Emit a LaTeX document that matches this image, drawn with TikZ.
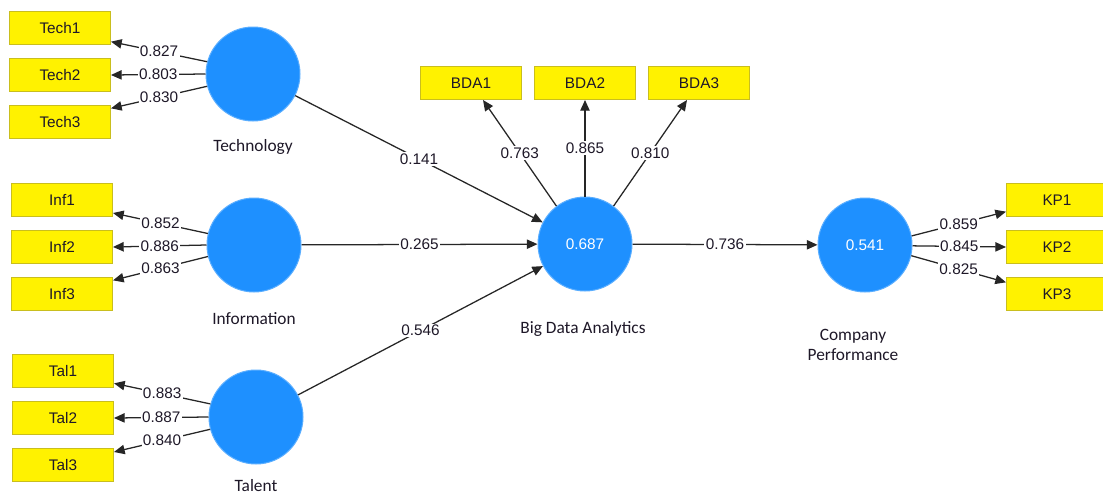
\documentclass[tikz,border=0pt]{standalone}
\usepackage{fontspec}
\setmainfont{Liberation Sans}
\newfontfamily\latfont{Carlito}
\usetikzlibrary{arrows.meta,calc}
\definecolor{boxfill}{HTML}{FFF200}
\definecolor{boxborder}{HTML}{C9BE1E}
\definecolor{lvblue}{HTML}{1E90FF}
\definecolor{lvedge}{HTML}{5AAEFF}
\definecolor{txt}{HTML}{1E1828}
\begin{document}
\begin{tikzpicture}[x=0.75pt,y=-0.75pt,
 ind/.style={draw=boxborder, fill=boxfill, minimum width=75.75pt, minimum height=24.75pt, inner sep=0pt, text=txt, font=\fontsize{11.5}{13}\selectfont, line width=0.75pt},
 lv/.style={circle, fill=lvblue, draw=lvedge, line width=0.75pt, minimum size=70.5pt, inner sep=0pt, text=white, font=\fontsize{11.5}{13}\selectfont},
 lvname/.style={font=\latfont\fontsize{13}{15}\selectfont, text=txt, align=center},
 conn/.style={draw=black!85, line width=0.95pt, -{Triangle[length=8pt,width=7pt]}},
 wt/.style={fill=white, inner sep=1pt, font=\fontsize{11.5}{13}\selectfont, text=txt}]
\fill[white] (0,0) rectangle (1103,497);
\useasboundingbox (0,0) rectangle (1103,497);
\clip (0,0) rectangle (1103,497);
% indicator boxes
\node[ind] (t1) at (60,28) {Tech1};
\node[ind] (t2) at (60,75) {Tech2};
\node[ind] (t3) at (60,122) {Tech3};
\node[ind] (i1) at (62,200) {Inf1};
\node[ind] (i2) at (62,247) {Inf2};
\node[ind] (i3) at (62,294) {Inf3};
\node[ind] (a1) at (63,371) {Tal1};
\node[ind] (a2) at (63,418) {Tal2};
\node[ind] (a3) at (63,465) {Tal3};
\node[ind] (b1) at (471,83) {BDA1};
\node[ind] (b2) at (585,83) {BDA2};
\node[ind] (b3) at (699,83) {BDA3};
\node[ind] (k1) at (1057,200) {KP1};
\node[ind] (k2) at (1057,247) {KP2};
\node[ind] (k3) at (1057,294) {KP3};
% latent variables
\node[lv] (tech) at (253,74) {};
\node[lv] (info) at (254,245) {};
\node[lv] (tal) at (256,417) {};
\node[lv] (bda) at (585,244) {0.687};
\node[lv] (kp) at (865,245) {0.541};
\node[lvname] (techn) at (253,147) {Technology};
\node[lvname] (infon) at (254,319) {Information};
\node[lvname] (taln) at (256,486) {Talent};
\node[lvname] (bdan) at (583,329) {Big Data Analytics};
\node[lvname] (kpn) at (853,345) {Company\\Performance};
% outer loadings
\draw[conn] (tech.165) -- node[wt]{0.827} ([yshift=2.5pt]t1.south east);
\draw[conn] (tech.180) -- node[wt]{0.803} (t2.east);
\draw[conn] (tech.195) -- node[wt]{0.830} ([yshift=-2.5pt]t3.north east);
\draw[conn] (info.166) -- node[wt]{0.852} ([yshift=3pt]i1.south east);
\draw[conn] (info.180) -- node[wt]{0.886} (i2.east);
\draw[conn] (info.194) -- node[wt]{0.863} ([yshift=-2.5pt]i3.north east);
\draw[conn] (tal.164) -- node[wt]{0.883} ([yshift=3.5pt]a1.south east);
\draw[conn] (tal.180) -- node[wt]{0.887} (a2.east);
\draw[conn] (tal.195) -- node[wt]{0.840} ([yshift=-3pt]a3.north east);
\draw[conn] (bda.127) -- node[wt]{0.763} ([xshift=9pt]b1.south);
\draw[conn] (bda.90) -- node[wt]{0.865} (b2.south);
\draw[conn] (bda.53) -- node[wt]{0.810} ([xshift=-9pt]b3.south);
\draw[conn] (kp.11) -- node[wt]{0.859} ([yshift=4pt]k1.south west);
\draw[conn] (kp.-1) -- node[wt]{0.845} (k2.west);
\draw[conn] (kp.-13) -- node[wt]{0.825} ([yshift=-4pt]k3.north west);
% structural paths
\draw[conn] (tech) -- node[wt]{0.141} (bda);
\draw[conn] (info) -- node[wt]{0.265} (bda);
\draw[conn] (tal) -- node[wt]{0.546} (bda);
\draw[conn] (bda) -- node[wt]{0.736} (kp);
\end{tikzpicture}
\end{document}
